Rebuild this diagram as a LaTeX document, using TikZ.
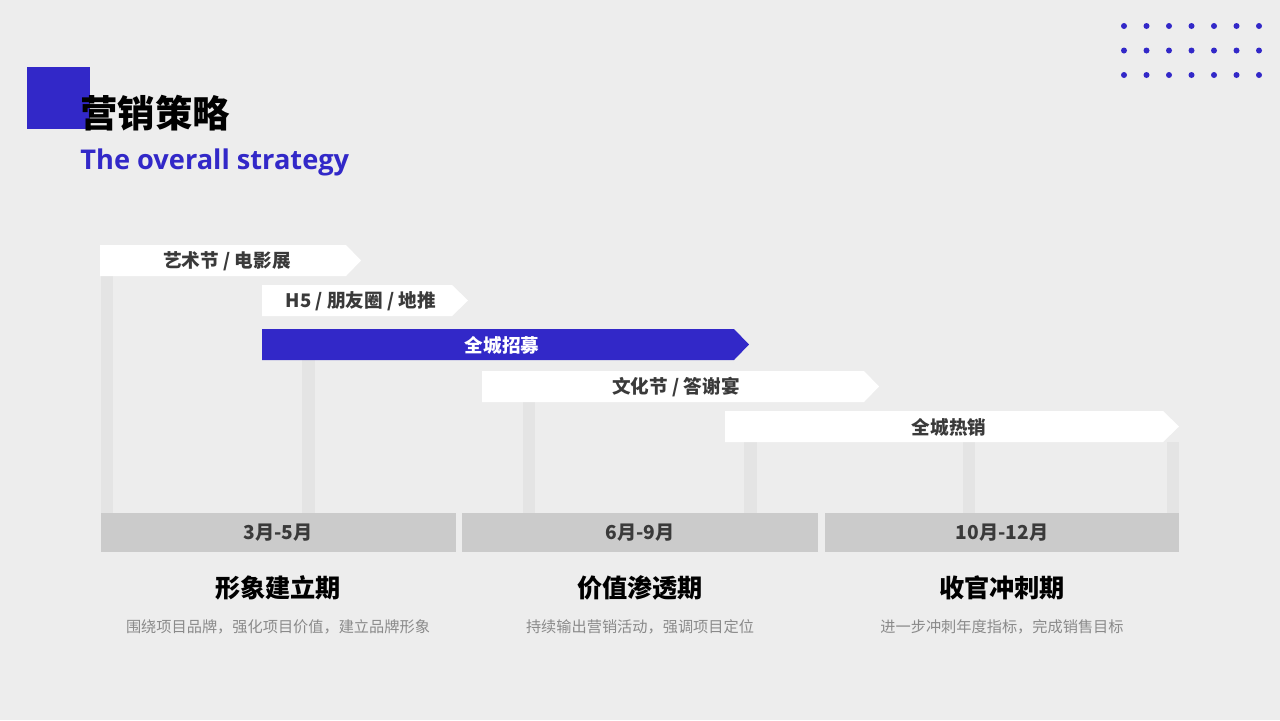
\documentclass[tikz,border=0pt]{standalone}
\usepackage{fontspec}
\setmainfont{Noto Sans CJK SC}
\newfontfamily\latinsans{Open Sans}
\definecolor{pagebg}{HTML}{EDEDED}
\definecolor{brandblue}{HTML}{3228C8}
\definecolor{postgray}{HTML}{E4E4E4}
\definecolor{periodgray}{HTML}{CBCBCB}
\definecolor{labeltext}{HTML}{3A3A3A}
\definecolor{notetext}{HTML}{8A8A8A}
\tikzset{
  banner/.style={fill=white},
  bannerhi/.style={fill=brandblue},
  bannertext/.style={inner sep=0pt, text=labeltext,
    font=\fontsize{9.3}{11}\selectfont\bfseries},
  periodtext/.style={inner sep=0pt, text=labeltext,
    font=\fontsize{9.6}{11}\selectfont\bfseries},
  phasetext/.style={inner sep=0pt, text=black,
    font=\fontsize{12.6}{14}\selectfont\bfseries},
  notetext/.style={inner sep=0pt, text=notetext,
    font=\fontsize{7.6}{9}\selectfont}
}

\begin{document}
\begin{tikzpicture}[x=0.5pt, y=-0.5pt]
\fill[pagebg] (0,0) rectangle (1280,720);
\useasboundingbox (0,0) rectangle (1280,720);

% header
\fill[brandblue] (27,67) rectangle (90,129);
\node[anchor=base west, inner sep=0pt, font=\fontsize{18.7}{20}\selectfont\bfseries]
  (title) at (80,127) {营销策略};
\node[anchor=base west, inner sep=0pt, text=brandblue, font=\fontsize{13.6}{16}\selectfont\latinsans\bfseries]
  (subtitle) at (80,169) {The overall strategy};

% dot grid
\foreach \i in {0,...,6}
  \foreach \j in {0,1,2}
    \fill[brandblue] (1124+22.5*\i, 26+24.5*\j) circle (3);

% posts
\fill[postgray] (101,276) rectangle (113,513);
\fill[postgray] (302,360) rectangle (315,513);
\fill[postgray] (523,402) rectangle (535,513);
\fill[postgray] (744,442) rectangle (757,513);
\fill[postgray] (963,442) rectangle (975,513);
\fill[postgray] (1167,442) rectangle (1179,513);

% banners
\fill[banner] (100,245) -- (346,245) -- (361,260.5) -- (346,276) -- (100,276) -- cycle;
\fill[banner] (262,285) -- (452,285) -- (468,300.5) -- (452,316) -- (262,316) -- cycle;
\fill[bannerhi] (262,329) -- (734,329) -- (749,344.5) -- (734,360) -- (262,360) -- cycle;
\fill[banner] (482,371) -- (864,371) -- (879,386.5) -- (864,402) -- (482,402) -- cycle;
\fill[banner] (725,411) -- (1163,411) -- (1179,426.5) -- (1163,442) -- (725,442) -- cycle;
\node[bannertext] (art) at (227,261) {艺术节 / 电影展};
\node[bannertext] (web) at (361,301) {H5 / 朋友圈 / 地推};
\node[bannertext, text=white] (recruit) at (502,345) {全城招募};
\node[bannertext] (fest) at (676,387) {文化节 / 答谢宴};
\node[bannertext] (sale) at (949,427) {全城热销};

% periods
\fill[periodgray] (101,513) rectangle (456,552);
\fill[periodgray] (462,513) rectangle (818,552);
\fill[periodgray] (825,513) rectangle (1179,552);
\node[periodtext] (p1) at (278,533) {3月-5月};
\node[periodtext] (p2) at (640,533) {6月-9月};
\node[periodtext] (p3) at (1002,533) {10月-12月};

% phases
\node[phasetext] (h1) at (278,588) {形象建立期};
\node[phasetext] (h2) at (640,588) {价值渗透期};
\node[phasetext] (h3) at (1002,588) {收官冲刺期};
\node[notetext] (n1) at (278,627) {围绕项目品牌，强化项目价值，建立品牌形象};
\node[notetext] (n2) at (640,627) {持续输出营销活动，强调项目定位};
\node[notetext] (n3) at (1002,627) {进一步冲刺年度指标，完成销售目标};
\end{tikzpicture}
\end{document}
